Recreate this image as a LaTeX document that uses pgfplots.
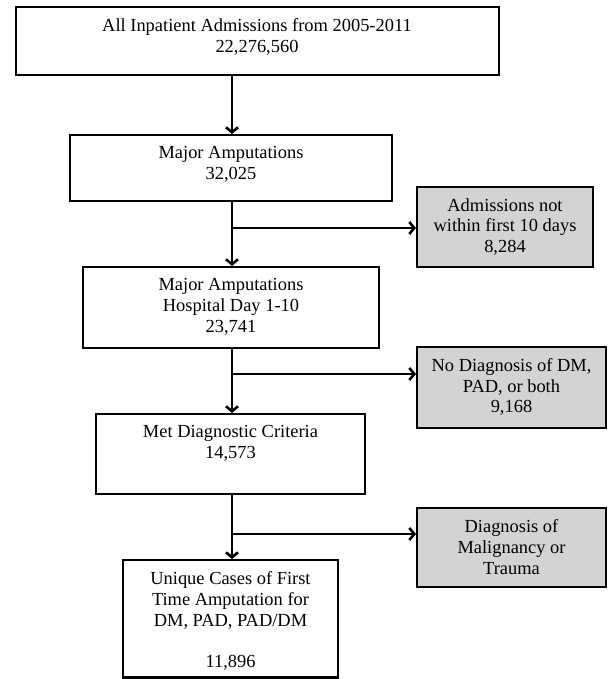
\documentclass[border=0pt]{standalone}
\usepackage{fontspec}
\setmainfont{Liberation Serif}
\usepackage{pgfplots}
\pgfplotsset{compat=1.18}
\usetikzlibrary{arrows.meta}
\definecolor{boxgray}{RGB}{211,211,211}
\begin{document}
\begin{tikzpicture}
\begin{axis}[scale only axis, width=609bp, height=679bp,
  xmin=0, xmax=609, ymin=0, ymax=679, y dir=reverse,
  axis lines=none, clip=false]
% invisible frame so that the picture spans the whole canvas
\addplot[draw=none] coordinates {(0,0) (609,679)};
% boxes
\addplot[draw=black, line width=2.6bp, fill=white] coordinates {(16,7) (499,7) (499,75) (16,75)} --cycle;
\addplot[draw=black, line width=2.6bp, fill=white] coordinates {(70,135) (392,135) (392,201) (70,201)} --cycle;
\addplot[draw=black, line width=2.6bp, fill=white] coordinates {(83,267) (379,267) (379,348) (83,348)} --cycle;
\addplot[draw=black, line width=2.6bp, fill=white] coordinates {(96,414) (365,414) (365,494) (96,494)} --cycle;
\addplot[draw=black, line width=2.6bp, fill=white] coordinates {(123,560) (338,560) (338,677.5) (123,677.5)} --cycle;
\addplot[draw=black, line width=2.8bp, fill=boxgray] coordinates {(417,187) (593,187) (593,267) (417,267)} --cycle;
\addplot[draw=black, line width=2.8bp, fill=boxgray] coordinates {(417,347) (606,347) (606,428) (417,428)} --cycle;
\addplot[draw=black, line width=2.8bp, fill=boxgray] coordinates {(417,508) (606,508) (606,587) (417,587)} --cycle;
% arrows
\addplot[line width=2.6bp, -{Straight Barb[length=5bp,width=12bp]}] coordinates {(232,75) (232,134)};
\addplot[line width=2.6bp, -{Straight Barb[length=5bp,width=12bp]}] coordinates {(232,201) (232,266)};
\addplot[line width=2.6bp, -{Straight Barb[length=5bp,width=12bp]}] coordinates {(232,348) (232,413)};
\addplot[line width=2.6bp, -{Straight Barb[length=5bp,width=12bp]}] coordinates {(232,494) (232,559)};
\addplot[line width=2.6bp, -{Straight Barb[length=5bp,width=12bp]}] coordinates {(232,228) (416,228)};
\addplot[line width=2.6bp, -{Straight Barb[length=5bp,width=12bp]}] coordinates {(232,374) (416,374)};
\addplot[line width=2.6bp, -{Straight Barb[length=5bp,width=12bp]}] coordinates {(232,534) (416,534)};
% texts
\tikzset{lbl/.style={align=center, font=\fontsize{18.5}{21}\selectfont, inner sep=0pt}}
\node[lbl] at (axis cs:257,37) {All Inpatient Admissions from 2005-2011\\22,276,560};
\node[lbl] at (axis cs:231,164.5) {Major Amputations\\32,025};
\node[lbl] at (axis cs:231,307) {Major Amputations\\Hospital Day 1-10\\23,741};
\node[lbl] at (axis cs:230.5,443) {Met Diagnostic Criteria\\14,573};
\node[lbl] at (axis cs:230.5,621) {Unique Cases of First\\Time Amputation for\\DM, PAD, PAD/DM\\ \\11,896};
\node[lbl] at (axis cs:505,227) {Admissions not\\within first 10 days\\8,284};
\node[lbl] at (axis cs:511.5,387) {No Diagnosis of DM,\\PAD, or both\\9,168};
\node[lbl] at (axis cs:511.5,547) {Diagnosis of\\Malignancy or\\Trauma};
\end{axis}
\end{tikzpicture}
\end{document}
